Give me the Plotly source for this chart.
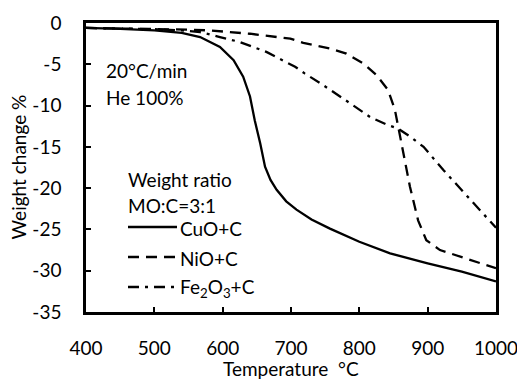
import plotly.graph_objects as go

# ---- data ----
cuo_t = [400, 450, 500, 540, 567, 596, 616, 630, 640, 647, 655, 662, 670, 679, 693, 708, 730, 757, 800, 845, 900, 950, 1000]
cuo_w = [-0.6, -0.7, -0.9, -1.2, -1.7, -2.9, -4.5, -6.5, -8.9, -11.8, -14.6, -17.4, -19.0, -20.2, -21.6, -22.6, -23.8, -24.9, -26.5, -27.9, -29.1, -30.1, -31.3]

nio_t = [400, 450, 500, 550, 581, 640, 699, 718, 757, 781, 806, 825, 842, 852, 857, 864, 874, 886, 898, 918, 948, 991, 1000]
nio_w = [-0.6, -0.65, -0.7, -0.8, -0.9, -1.3, -1.9, -2.4, -3.1, -3.7, -4.9, -6.3, -8.1, -10.5, -12.6, -15.6, -19.8, -23.9, -26.3, -27.5, -28.3, -29.5, -29.7]

fe_t = [400, 450, 500, 540, 567, 596, 625, 664, 706, 720, 743, 779, 816, 840, 857, 875, 894, 923, 952, 984, 1000]
fe_w = [-0.6, -0.65, -0.75, -0.9, -1.1, -1.7, -2.3, -3.5, -5.3, -6.1, -7.3, -9.3, -11.4, -12.3, -12.8, -13.8, -15.0, -17.8, -20.4, -23.3, -24.8]

series_names = ["CuO+C", "NiO+C", "Fe<sub>2</sub>O<sub>3</sub>+C"]
series_dash = ["solid", "11px,7px", "11px,6px,3px,6px"]
legend_title_lines = ["Weight ratio", "MO:C=3:1"]
condition_lines = ["20°C/min", "He 100%"]

x_ticks = [400, 500, 600, 700, 800, 900, 1000]
y_ticks = [0, -5, -10, -15, -20, -25, -30, -35]
y_ticktext = ["0", "-5", "-10", "-15", "-20", "-25", "-30", "-35"]

FONT = "Lato"
FS = 19

# plot-area geometry (px) for the figure layout
W, H = 517, 381
L, R, T, B = 86, 21, 23, 69
PW, PH = W - L - R, H - T - B


def px_x(px):
    return (px - L) / PW


def px_y(py):
    return (H - B - py) / PH


fig = go.Figure()
for t, w, name, dash in zip([cuo_t, nio_t, fe_t], [cuo_w, nio_w, fe_w], series_names, series_dash):
    fig.add_trace(go.Scatter(x=t, y=w, mode="lines", name=name, showlegend=False,
                             line=dict(color="black", width=2.3, dash=dash)))

annotations = []
# condition text
for txt, py in zip(condition_lines, [70, 97]):
    annotations.append(dict(text=txt, xref="paper", yref="paper", x=px_x(104), y=px_y(py),
                            xanchor="left", yanchor="middle", showarrow=False,
                            font=dict(family=FONT, size=FS, color="black")))
# legend title
for txt, py in zip(legend_title_lines, [179, 205]):
    annotations.append(dict(text=txt, xref="paper", yref="paper", x=px_x(126), y=px_y(py),
                            xanchor="left", yanchor="middle", showarrow=False,
                            font=dict(family=FONT, size=FS, color="black")))
# legend entries
shapes = []
for name, dash, py in zip(series_names, series_dash, [227, 257, 287]):
    annotations.append(dict(text=name, xref="paper", yref="paper", x=px_x(178), y=px_y(py + 1),
                            xanchor="left", yanchor="middle", showarrow=False,
                            font=dict(family=FONT, size=FS, color="black")))
    shapes.append(dict(type="line", xref="paper", yref="paper",
                       x0=px_x(128), x1=px_x(177), y0=px_y(py), y1=px_y(py),
                       line=dict(color="black", width=2.3, dash=dash)))
# axis titles
annotations.append(dict(text="Temperature\u00a0\u00a0°C", xref="paper", yref="paper",
                        x=0.5, y=px_y(368), xanchor="center", yanchor="middle", showarrow=False,
                        font=dict(family=FONT, size=FS, color="black")))
annotations.append(dict(text="Weight change %", xref="paper", yref="paper", textangle=-90,
                        x=px_x(18), y=0.5, xanchor="center", yanchor="middle", showarrow=False,
                        font=dict(family=FONT, size=FS, color="black")))

fig.update_layout(
    width=W, height=H,
    margin=dict(l=L, r=R, t=T, b=B),
    paper_bgcolor="white", plot_bgcolor="white",
    font=dict(family=FONT, size=FS, color="black"),
    showlegend=False,
    xaxis=dict(
        range=[400, 1000], tickvals=x_ticks, ticks="inside", ticklen=5, tickwidth=1.5,
        tickcolor="black", showline=True, linecolor="black", linewidth=2.5, mirror=True,
        showgrid=False, zeroline=False, ticklabelstandoff=17, automargin=False,
        ticklabeloverflow="allow",
    ),
    yaxis=dict(
        range=[-35, 0], tickvals=y_ticks, ticktext=y_ticktext, ticks="inside", ticklen=5,
        tickwidth=1.5, tickcolor="black", showline=True, linecolor="black", linewidth=2.5,
        mirror=True, showgrid=False, zeroline=False, ticklabelstandoff=18, automargin=False,
        ticklabeloverflow="allow",
    ),
    annotations=annotations,
    shapes=shapes,
)

fig.write_html("out.html")
